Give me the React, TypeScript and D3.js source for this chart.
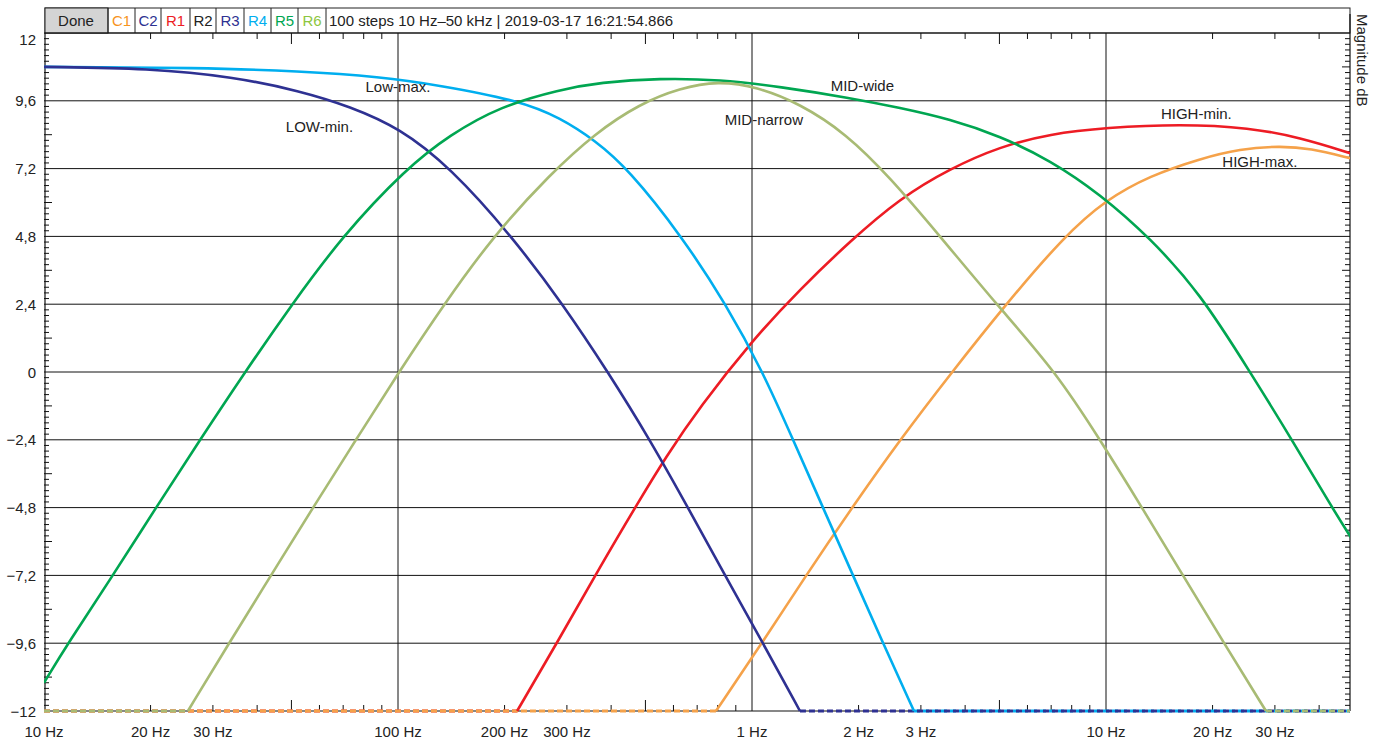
import React from 'react';
import * as d3 from 'd3';

// ---- data (Hz, dB) ----
const highMaxFreq = [791, 1067, 1421, 1917, 2618, 3673, 5218, 7610, 10000, 13310, 18430, 23900, 31010, 37700, 48900, 50000];
const highMaxDb = [-12, -9.6, -7.2, -4.8, -2.4, 0, 2.4, 4.8, 6.1, 6.95, 7.55, 7.9, 8.0, 7.92, 7.57, 7.54];

const highMinFreq = [217, 287, 372, 483, 568, 713, 1000, 1366, 1892, 2618, 3623, 5019, 6950, 10000, 16180, 25520, 35320, 48900, 50000];
const highMinDb = [-12, -9.4, -6.9, -4.5, -3.05, -1.23, 1.11, 2.93, 4.63, 6.15, 7.2, 7.98, 8.43, 8.65, 8.78, 8.65, 8.3, 7.75, 7.7];

const lowMaxFreq = [10, 27.6, 52.9, 89, 131, 221, 287, 360, 446, 634, 844, 1074, 1306, 1587, 1929, 2345, 2868];
const lowMaxDb = [10.8, 10.77, 10.65, 10.45, 10.15, 9.6, 9.0, 8.2, 7.2, 4.8, 2.4, 0, -2.4, -4.8, -7.2, -9.6, -12];

const lowMinFreq = [10, 19.9, 34.2, 52.9, 73.2, 101, 140.3, 209.9, 292.3, 392, 515, 659.5, 838.9, 1074, 1366];
const lowMinDb = [10.8, 10.75, 10.45, 9.95, 9.4, 8.64, 7.25, 4.8, 2.4, 0, -2.4, -4.8, -7.2, -9.6, -12];

const midWideFreq = [10, 11.69, 15.66, 20.72, 27.6, 36.97, 50.2, 69.5, 105.3, 140.3, 194, 286.8, 372, 550, 812, 1199, 1892, 2618, 3623, 5019, 6950, 9620, 13310, 18430, 25520, 33530, 43500, 50000];
const midWideDb = [-11.0, -9.6, -7.2, -4.8, -2.4, 0, 2.4, 4.8, 7.2, 8.4, 9.4, 10.0, 10.25, 10.4, 10.35, 10.1, 9.7, 9.35, 8.95, 8.35, 7.5, 6.3, 4.75, 2.8, 0, -2.4, -4.8, -6.0];

const midNarrowFreq = [25.5, 33.3, 43.8, 57.5, 76.1, 100.6, 134.9, 185.5, 268.8, 360.2, 482.7, 626, 801.7, 1030, 1366, 1840, 2450, 3400, 4900, 7225, 9619, 12640, 16500, 21540, 28310];
const midNarrowDb = [-12, -9.6, -7.2, -4.8, -2.4, 0, 2.4, 4.8, 7.0, 8.45, 9.5, 10.05, 10.3, 10.1, 9.5, 8.45, 6.9, 4.8, 2.4, 0, -2.4, -4.8, -7.2, -9.6, -12];

const xLabelFreq = [10, 20, 30, 100, 200, 300, 1000, 2000, 3000, 10000, 20000, 30000];
const xLabelText = ['10 Hz', '20 Hz', '30 Hz', '100 Hz', '200 Hz', '300 Hz', '1 Hz', '2 Hz', '3 Hz', '10 Hz', '20 Hz', '30 Hz'];
const yTicks = [-12, -9.6, -7.2, -4.8, -2.4, 0, 2.4, 4.8, 7.2, 9.6, 12];

const headerTabs = ['C1', 'C2', 'R1', 'R2', 'R3', 'R4', 'R5', 'R6'];
const headerColors = ['#f7941d', '#2e3192', '#ed1c24', '#222222', '#2e3192', '#00aeef', '#00a651', '#8dc63f'];
const headerText = '100 steps 10 Hz\u201350 kHz | 2019-03-17 16:21:54.866';

// solid curves, drawn in this order (later ones lie on top)
const series = [
  { name: 'HIGH-max.', color: '#f5a24a', freq: highMaxFreq, db: highMaxDb },
  { name: 'HIGH-min.', color: '#ed1c24', freq: highMinFreq, db: highMinDb },
  { name: 'Low-max.', color: '#00aeef', freq: lowMaxFreq, db: lowMaxDb },
  { name: 'LOW-min.', color: '#2e3192', freq: lowMinFreq, db: lowMinDb },
  { name: 'MID-wide', color: '#00a651', freq: midWideFreq, db: midWideDb },
  { name: 'MID-narrow', color: '#a8bb74', freq: midNarrowFreq, db: midNarrowDb },
];
// order of the dashed "below range" parts at -12 dB
const dashOrder = ['HIGH-min.', 'Low-max.', 'HIGH-max.', 'LOW-min.', 'MID-wide', 'MID-narrow'];

const curveLabels = [
  { text: 'Low-max.', f: 100, db: 10.1 },
  { text: 'LOW-min.', f: 60, db: 8.7 },
  { text: 'MID-wide', f: 2050, db: 10.15 },
  { text: 'MID-narrow', f: 1080, db: 8.95 },
  { text: 'HIGH-min.', f: 18000, db: 9.15 },
  { text: 'HIGH-max.', f: 27200, db: 7.45 },
];

const W = 1384;
const H = 740;
const left = 44;
const right = 1350;
const top = 33;
const bottom = 711;
const fMin = 10;
const fMax = 50000;
const decade = 354;
const font = '"Liberation Sans", Arial, sans-serif';

export default function App() {
  const x = d3.scaleLog().domain([fMin, fMax]).range([left, left + decade * Math.log10(fMax / fMin)]);
  const y = d3.scaleLinear().domain([-12, 12]).range([bottom, top]);

  const line = d3.line<[number, number]>()
    .x(d => x(d[0]))
    .y(d => y(d[1]))
    .curve(d3.curveBasis);

  // minor / mid ticks along the frequency axis
  const fTicks: { f: number; big: boolean }[] = [];
  [10, 100, 1000, 10000].forEach(dec => {
    for (let k = 2; k <= 9; k++) {
      const f = dec * k;
      if (f < fMax) fTicks.push({ f, big: k === 5 });
    }
  });
  const decadeLines = [100, 1000, 10000];

  // 0.2 dB minor ticks on the magnitude axis
  const dbTicks: { v: number; big: boolean }[] = [];
  for (let i = 0; i <= 120; i++) {
    const v = -12 + i * 0.2;
    if (i % 12 === 0) continue;
    dbTicks.push({ v, big: i % 6 === 0 });
  }

  // header cells
  const cellEdges = [45, 108, 135, 161, 190, 216, 244, 271, 298, 326];

  const dashed = dashOrder.map(n => series.find(s => s.name === n)!);

  return (
    <svg width={W} height={H} style={{ position: 'absolute', left: 0, top: 0, background: '#fff' }}
         fontFamily={font}>
      <defs>
        <clipPath id="plotClip">
          <rect x={left} y={top - 2} width={right - left} height={bottom - top + 4} />
        </clipPath>
      </defs>

      {/* header bar */}
      <rect x={45} y={8} width={right - 45} height={top - 8} fill="#fff" stroke="#222" strokeWidth={1} />
      <rect x={45} y={8} width={108 - 45} height={top - 8} fill="#d4d4d4" stroke="#222" strokeWidth={1} />
      {cellEdges.slice(1).map((e, i) => (
        <line key={'ce' + i} x1={e} x2={e} y1={8} y2={top} stroke="#222" strokeWidth={1} />
      ))}
      <text x={76} y={26} fontSize={15} textAnchor="middle" fill="#222">Done</text>
      {headerTabs.map((t, i) => (
        <text key={t} x={(cellEdges[i + 1] + cellEdges[i + 2]) / 2} y={26} fontSize={15}
              textAnchor="middle" fill={headerColors[i]}>{t}</text>
      ))}
      <text x={329} y={26} fontSize={15} fill="#222">{headerText}</text>

      {/* grid */}
      {yTicks.slice(1, -1).map(v => (
        <line key={'gy' + v} x1={left} x2={right} y1={y(v)} y2={y(v)} stroke="#111" strokeWidth={1} />
      ))}
      {decadeLines.map(f => (
        <line key={'gx' + f} x1={x(f)} x2={x(f)} y1={top} y2={bottom} stroke="#111" strokeWidth={1} />
      ))}

      {/* frequency ticks top & bottom */}
      {fTicks.map(t => (
        <g key={'ft' + t.f}>
          <line x1={x(t.f)} x2={x(t.f)} y1={top} y2={top + (t.big ? 11 : 6)} stroke="#111" />
          <line x1={x(t.f)} x2={x(t.f)} y1={bottom} y2={bottom - (t.big ? 11 : 6)} stroke="#111" />
        </g>
      ))}

      {/* magnitude ticks left & right */}
      {dbTicks.map(t => (
        <g key={'dt' + t.v.toFixed(1)}>
          <line x1={left} x2={left + (t.big ? 8 : 5)} y1={y(t.v)} y2={y(t.v)} stroke="#111" />
          <line x1={right} x2={right - (t.big ? 8 : 5)} y1={y(t.v)} y2={y(t.v)} stroke="#111" />
        </g>
      ))}

      {/* frame */}
      <line x1={left + 1} x2={left + 1} y1={top} y2={bottom} stroke="#111" strokeWidth={1.2} />
      <line x1={right} x2={right} y1={14} y2={bottom} stroke="#111" strokeWidth={1.2} />
      <line x1={left} x2={right} y1={top} y2={top} stroke="#111" strokeWidth={1.2} />
      <line x1={left} x2={right} y1={bottom} y2={bottom} stroke="#111" strokeWidth={1.2} />

      <g clipPath="url(#plotClip)">
        {/* parts below the range, parked on the -12 dB line */}
        {dashed.map(s => {
          const f0 = s.freq[0];
          const f1 = s.freq[s.freq.length - 1];
          return (
            <g key={'d' + s.name}>
              {s.db[0] <= -12 && f0 > fMin && (
                <line x1={x(fMin)} x2={x(f0)} y1={y(-12)} y2={y(-12)}
                      stroke={s.color} strokeWidth={3} strokeDasharray="6 3" />
              )}
              {s.db[s.db.length - 1] <= -12 && f1 < fMax && (
                <line x1={x(f1)} x2={x(fMax)} y1={y(-12)} y2={y(-12)}
                      stroke={s.color} strokeWidth={3} strokeDasharray="6 3" />
              )}
            </g>
          );
        })}
        {/* curves */}
        {series.map(s => {
          const pts: [number, number][] = s.freq.map((f, i) => [f, s.db[i]]);
          return (
            <path key={s.name} d={line(pts) || ''} fill="none" stroke={s.color} strokeWidth={2.6}
                  strokeLinejoin="round" />
          );
        })}
      </g>

      {/* curve names */}
      {curveLabels.map(l => (
        <text key={l.text} x={x(l.f)} y={y(l.db)} fontSize={15} textAnchor="middle"
              dominantBaseline="central" fill="#222">{l.text}</text>
      ))}

      {/* y labels */}
      {yTicks.map(v => (
        <text key={'yl' + v} x={36} y={v === 12 ? y(v) + 6 : y(v)} fontSize={15} textAnchor="end"
              dominantBaseline="central" fill="#222">
          {d3.format('.1~f')(v).replace('-', '\u2013').replace('.', ',')}
        </text>
      ))}

      {/* x labels */}
      {xLabelFreq.map((f, i) => (
        <text key={'xl' + i} x={x(f)} y={731} fontSize={15} textAnchor="middle"
              dominantBaseline="central" fill="#222">{xLabelText[i]}</text>
      ))}

      <text transform="translate(1357,14) rotate(90)" fontSize={15} fill="#222">Magnitude dB</text>
    </svg>
  );
}
